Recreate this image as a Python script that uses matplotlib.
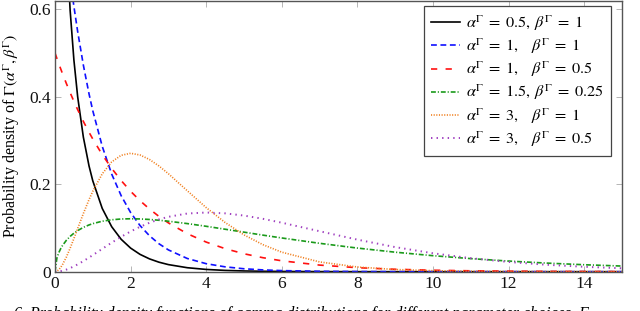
#!/usr/bin/env python

# Gamma densities for several (alpha, beta) pairs

import matplotlib
matplotlib.use("Agg")
import matplotlib.pyplot as plt # type: ignore

plt.rcParams['font.family'] = 'serif'
plt.rcParams['font.serif'] = ['Liberation Serif', 'DejaVu Serif']
plt.rcParams['mathtext.fontset'] = 'stix'
plt.rcParams['lines.scale_dashes'] = False

# sample positions on the x axis
x = [0, 0.05, 0.1, 0.15, 0.2, 0.3, 0.4, 0.5, 0.6, 0.75, 0.9, 1.0, 1.25, 1.5, 1.75,
     2.0, 2.25, 2.5, 2.75, 3.0, 3.5, 4.0, 4.5, 5.0, 5.5, 6.0, 7, 8, 9, 10, 11, 12, 13, 14, 15]

# alpha=0.5, beta=1 (undefined at 0, so it starts at the second sample)
y_a05_b1 = [2.400, 1.614, 1.254, 1.033, 0.7631, 0.5980, 0.4839, 0.3997, 0.3077, 0.2418, 0.2076,
            0.1446, 0.1028, 0.0741, 0.0540, 0.0396, 0.0293, 0.02175, 0.01622, 0.00911, 0.00517,
            0.00295, 0.0017, 0.00098, 0.00057, 0.00019, 0.00007, 0.00002, 0.0, 0.0, 0.0, 0.0, 0.0, 0.0]
# alpha=1, beta=1
y_a1_b1 = [1.0, 0.9512, 0.9048, 0.8607, 0.8187, 0.7408, 0.6703, 0.6065, 0.5488, 0.4724, 0.4066,
           0.3679, 0.2865, 0.2231, 0.1738, 0.1353, 0.1054, 0.0821, 0.0639, 0.0498, 0.0302, 0.0183,
           0.0111, 0.0067, 0.0041, 0.0025, 0.0009, 0.0003, 0.0001, 0.00005, 0.00002, 0.0, 0.0, 0.0, 0.0]
# alpha=1, beta=0.5
y_a1_b05 = [0.5, 0.4877, 0.4756, 0.4639, 0.4524, 0.4304, 0.4094, 0.3894, 0.3704, 0.3436, 0.3188,
            0.3033, 0.2676, 0.2362, 0.2084, 0.1839, 0.1623, 0.1433, 0.1264, 0.1116, 0.0869, 0.0677,
            0.0527, 0.0410, 0.0320, 0.0249, 0.0151, 0.00916, 0.00555, 0.00337, 0.00204, 0.00124,
            0.00075, 0.00046, 0.00028]
# alpha=1.5, beta=0.25
y_a15_b025 = [0.0, 0.0312, 0.0435, 0.0526, 0.0600, 0.0717, 0.0807, 0.0880, 0.0940, 0.1013, 0.1069,
              0.1099, 0.1154, 0.1187, 0.1205, 0.1210, 0.1206, 0.1194, 0.1176, 0.1154, 0.1100, 0.1038,
              0.0971, 0.0904, 0.0836, 0.0771, 0.0649, 0.0540, 0.0446, 0.0366, 0.0299, 0.0243,
              0.0197, 0.0159, 0.0129]
# alpha=3, beta=1
y_a3_b1 = [0.0, 0.0012, 0.0045, 0.0097, 0.0164, 0.0333, 0.0536, 0.0758, 0.0988, 0.1329, 0.1647,
           0.1839, 0.2238, 0.2510, 0.2661, 0.2707, 0.2668, 0.2565, 0.2417, 0.2240, 0.1850, 0.1465,
           0.1125, 0.0842, 0.0618, 0.0446, 0.0223, 0.0107, 0.0050, 0.0023, 0.0010, 0.0004,
           0.0002, 0.0001, 0.0]
# alpha=3, beta=0.5
y_a3_b05 = [0.0, 0.0002, 0.0006, 0.0013, 0.0023, 0.0048, 0.0082, 0.0122, 0.0167, 0.0242, 0.0323,
            0.0379, 0.0523, 0.0664, 0.0798, 0.0920, 0.1027, 0.1119, 0.1195, 0.1255, 0.1330, 0.1353,
            0.1334, 0.1283, 0.1209, 0.1120, 0.0925, 0.0733, 0.0562, 0.0421, 0.0309, 0.0223,
            0.0159, 0.0112, 0.0078]

labels = [r'$\alpha^\Gamma \;=\; 0.5,\, \beta^\Gamma \;=\; 1$',
          r'$\alpha^\Gamma \;=\; 1,\quad \beta^\Gamma \;=\; 1$',
          r'$\alpha^\Gamma \;=\; 1,\quad \beta^\Gamma \;=\; 0.5$',
          r'$\alpha^\Gamma \;=\; 1.5,\, \beta^\Gamma \;=\; 0.25$',
          r'$\alpha^\Gamma \;=\; 3,\quad \beta^\Gamma \;=\; 1$',
          r'$\alpha^\Gamma \;=\; 3,\quad \beta^\Gamma \;=\; 0.5$']

fig = plt.figure(figsize=(6.4, 3.11), dpi=100)
ax = fig.add_axes([55/640, 1 - 271.7/311, 567/640, 271.2/311])

lw = 1.2
ax.plot(x[1:], y_a05_b1, color='black', lw=lw, label=labels[0])
ax.plot(x, y_a1_b1, color='#1010ff', lw=lw, dashes=(4.2, 2.6), label=labels[1])
ax.plot(x, y_a1_b05, color='#ff1010', lw=lw, dashes=(4.5, 6.0), label=labels[2])
ax.plot(x, y_a15_b025, color='#1a9a1a', lw=lw, dashes=(3.5, 1.4, 0.8, 1.4), label=labels[3])
ax.plot(x, y_a3_b1, color='#f08020', lw=lw, dashes=(0.8, 1.1), label=labels[4])
ax.plot(x, y_a3_b05, color='#a040c0', lw=lw + 0.2, dashes=(1.0, 3.0), label=labels[5])

ax.set_xlim(0, 15)
ax.set_ylim(0, 0.62)
ax.set_xticks([0, 2, 4, 6, 8, 10, 12, 14])
ax.set_yticks([0, 0.2, 0.4, 0.6])
ax.set_yticklabels(['0', '0.2', '0.4', '0.6'])
ax.tick_params(direction='in', top=True, right=True, length=4, width=0.6,
               color='#aaaaaa', labelsize=12.5, pad=3, labelcolor='#111111')
for s in ax.spines.values():
    s.set_color('#555555')
    s.set_linewidth(1.0)

ax.set_ylabel(r'Probability density of $\Gamma(\alpha^\Gamma, \beta^\Gamma)$', fontsize=11.5, labelpad=5)

leg = ax.legend(loc='upper right', bbox_to_anchor=(0.9806, 0.9797), borderaxespad=0,
                fancybox=False, edgecolor='#444444', framealpha=1, fontsize=11.7,
                handlelength=1.75, handletextpad=0.4, labelspacing=0.22, borderpad=0.45)
leg.get_frame().set_linewidth(0.9)

# caption of the page, cut off at the bottom edge
fig.text(14/640, 1 - 306/311, '6. Probability density functions of gamma distributions for different parameter choices. F',
         va='top', ha='left', fontsize=11.5, style='italic')

fig.savefig('out.png', dpi=100)
